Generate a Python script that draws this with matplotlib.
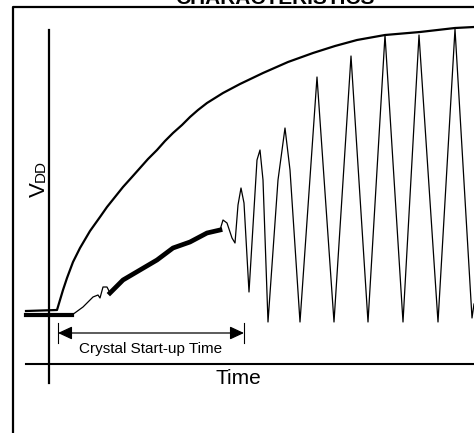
from matplotlib import pyplot as plt

plt.rcParams['font.family'] = ['Liberation Sans', 'DejaVu Sans']

# supply voltage ramp (arbitrary time / voltage units)
vdd_t = [-23, 8, 11, 14, 18, 24, 31, 41, 51, 58, 66, 74, 83, 91, 99, 108,
         116, 124, 133, 141, 149, 158, 166, 174, 191, 214, 239, 264, 286,
         308, 336, 371, 406, 425]
vdd_v = [53, 54, 64, 74, 86, 102, 116, 133, 147, 157, 167, 177, 187, 196,
         205, 214, 223, 231, 239, 247, 254, 261, 266, 271, 280, 291, 302, 311,
         318, 324, 329, 332, 336, 337]

# oscillator output: noise floor, noisy ramp, then growing oscillation
noise_t = [-23, 23]
noise_v = [49, 49]
lead_t = [23, 34, 44, 49, 51, 54, 58, 61]
lead_v = [49, 57, 67, 69, 66, 77, 77, 71]
ramp_t = [61, 74, 91, 108, 124, 141, 158, 171]
ramp_v = [71, 84, 94, 104, 116, 122, 131, 134]
osc_t = [171, 174, 178, 183, 186, 189, 192, 195, 200, 208, 211, 214, 219, 229,
         236, 241, 251, 268, 285, 302, 319, 336, 354, 370, 389, 406, 423, 425]
osc_v = [134, 144, 141, 126, 121, 159, 176, 161, 72, 204, 214, 184, 42, 184,
         236, 194, 42, 287, 42, 308, 42, 329, 42, 329, 42, 335, 46, 60]

start_t = 9
end_t = 195
arrow_v = 31

fig = plt.figure(figsize=(4.74, 4.33), dpi=100)
ax = fig.add_axes([0, 0, 1, 1])
ax.set_xlim(-49, 425)
ax.set_ylim(-69, 364)
ax.axis('off')

# frame and axes
ax.plot([-36, -36, 425], [-69, 357, 357], color='black', lw=1.6)
ax.plot([0, 0], [-19, 334], color='black', lw=1.6)
ax.plot([-23, 425], [0, 0], color='black', lw=1.5)

ax.plot(vdd_t, vdd_v, color='black', lw=1.6, solid_joinstyle='round')
ax.plot(noise_t, noise_v, color='black', lw=3)
ax.plot(lead_t, lead_v, color='black', lw=0.9)
ax.plot(ramp_t, ramp_v, color='black', lw=3.4, solid_joinstyle='round')
ax.plot(osc_t, osc_v, color='black', lw=0.9)

# start-up time marker
ax.plot([start_t, start_t], [21, 41], color='black', lw=0.8)
ax.plot([end_t, end_t], [21, 41], color='black', lw=0.8)
ax.annotate('', xy=(end_t, arrow_v), xytext=(start_t, arrow_v),
            arrowprops=dict(arrowstyle='<|-|>,head_length=0.86,head_width=0.4',
                            color='black', lw=0.9, shrinkA=0, shrinkB=0,
                            mutation_scale=10))
ax.text((start_t + end_t) / 2, 15, 'Crystal Start-up Time', fontsize=11,
        ha='center', va='center')

ax.text(189, -15, 'Time', fontsize=15, ha='center', va='center')
ax.text(-4, 167, 'V', fontsize=16, rotation=90, rotation_mode='anchor',
        ha='left', va='baseline')
ax.text(-4, 182, 'DD', fontsize=11, rotation=90, rotation_mode='anchor',
        ha='left', va='baseline')

# title is clipped by the top edge, as in the source figure
ax.text(226, 360.5, 'CHARACTERISTICS', fontsize=15, fontweight='bold',
        ha='center', va='baseline')

plt.savefig('out.png')
plt.close()
